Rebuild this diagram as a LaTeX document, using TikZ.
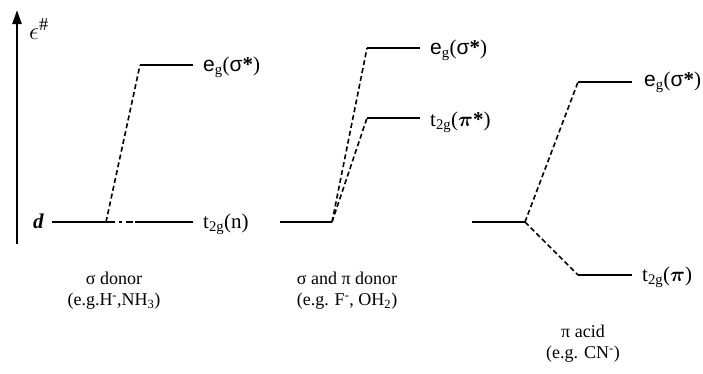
\documentclass[tikz,border=0pt]{standalone}
\usepackage{amsmath}
\usepackage{fontspec}
\setmainfont{Liberation Serif}
\newfontfamily\lsans{Liberation Sans}
\usetikzlibrary{arrows.meta}
\tikzset{
  lvl/.style={line width=2.4pt},
  conn/.style={line width=1.6pt, dash pattern=on 5pt off 3pt},
  lbl/.style={anchor=west, inner sep=0pt, font=\fontsize{21}{23}\selectfont},
  capt/.style={align=center, inner sep=0pt, font=\fontsize{18}{21}\selectfont}
}
\newcommand{\egs}{{\lsans e}\textsubscript{g}({\lsans σ}\textbf{*})}
\begin{document}
\begin{tikzpicture}[x=1pt,y=-1pt]
\useasboundingbox (0,0) rectangle (703,373);
% axis
\coordinate (ab) at (17,244);
\coordinate (at) at (17,10);
\draw[line width=2.4pt,-{Triangle[length=14pt,width=9pt]}] (ab) -- (at);
\node[lbl, font=\fontsize{26}{28}\selectfont] (eps) at (29,29) {$\epsilon^{\#}$};
% sigma donor
\node[lbl] (dl) at (33,221) {\textbf{\textit{d}}};
\coordinate (a1) at (52,222);
\coordinate (a2) at (108,222);
\coordinate (a3) at (135,222);
\coordinate (a4) at (193,222);
\coordinate (a5) at (140,65);
\coordinate (a6) at (193,65);
\coordinate (a2s) at (106,222);
\draw[lvl] (a1) -- (a2);
\draw[line width=2.4pt, dash pattern=on 7pt off 4pt on 3pt off 4pt] (a2) -- (a3);
\draw[lvl] (a3) -- (a4);
\draw[lvl] (a5) -- (a6);
\draw[conn] (a2s) -- (a5);
\node[lbl] (aeg) at (203,67) {\egs};
\node[lbl] (at2) at (203,224) {t\textsubscript{2g}(n)};
\node[capt] (acap) at (114,291) {σ donor\\(e.g.H\textsuperscript{-},NH\textsubscript{3})};
% sigma and pi donor
\coordinate (b1) at (280,222);
\coordinate (b2) at (332,222);
\coordinate (b3) at (367,48);
\coordinate (b4) at (420,48);
\coordinate (b5) at (367,118);
\coordinate (b6) at (420,118);
\draw[lvl] (b1) -- (b2);
\draw[lvl] (b3) -- (b4);
\draw[lvl] (b5) -- (b6);
\draw[conn] (b2) -- (b3);
\draw[conn] (b2) -- (b5);
\node[lbl] (beg) at (430,50) {\egs};
\node[lbl] (bt2) at (430,122) {t\textsubscript{2g}($\boldsymbol{\pi}$\textbf{*})};
\node[capt] (bcap) at (347,291) {σ and π donor\\(e.g. F\textsuperscript{-}, OH\textsubscript{2})};
% pi acid
\coordinate (c1) at (472,222);
\coordinate (c2) at (525,222);
\coordinate (c3) at (578,82);
\coordinate (c4) at (632,82);
\coordinate (c5) at (578,275);
\coordinate (c6) at (632,275);
\draw[lvl] (c1) -- (c2);
\draw[lvl] (c3) -- (c4);
\draw[lvl] (c5) -- (c6);
\draw[conn] (c2) -- (c3);
\draw[conn] (c2) -- (c5);
\node[lbl] (ceg) at (644,82) {\egs};
\node[lbl] (ct2) at (642,277) {t\textsubscript{2g}($\boldsymbol{\pi}$)};
\node[capt] (ccap) at (583,344) {π acid\\(e.g. CN\textsuperscript{-})};
\end{tikzpicture}
\end{document}
